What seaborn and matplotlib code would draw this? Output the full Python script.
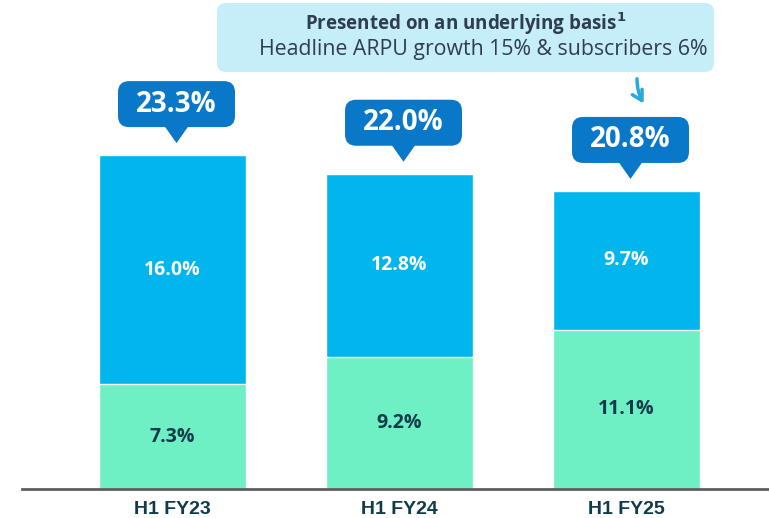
import matplotlib
matplotlib.use("Agg")
import matplotlib.pyplot as plt
import seaborn as sns
import pandas as pd
from matplotlib.patches import FancyBboxPatch, Polygon, FancyArrowPatch
from matplotlib.transforms import IdentityTransform

# ---- data ----
periods = ["H1 FY23", "H1 FY24", "H1 FY25"]
subscriber_growth = [7.3, 9.2, 11.1]      # green (bottom)
arpu_growth = [16.0, 12.8, 9.7]           # blue (top)
total_growth = [23.3, 22.0, 20.8]
callout_title = "Presented on an underlying basis$^{\\mathbf{1}}$"
callout_sub = "Headline ARPU growth 15% & subscribers 6%"

BLUE = "#00B6ED"
GREEN = "#6EF0C4"
BUBBLE = "#0A78C8"
DARK = "#0F3B4B"
CALLOUT_BG = "#C5EEF8"
CALLOUT_TXT = "#2E3D4F"

sns.set_theme(style="white")
plt.rcParams["font.family"] = ["Open Sans", "DejaVu Sans"]

W, H = 769, 518
fig = plt.figure(figsize=(W / 100, H / 100), dpi=100)
ax = fig.add_axes([22 / W, 29 / H, 747 / W, 489 / H])

df = pd.DataFrame({"period": periods, "total": total_growth, "subs": subscriber_growth})
bw = 147 / 227
sns.barplot(data=df, x="period", y="total", color=BLUE, saturation=1, width=bw, ax=ax)
sns.barplot(data=df, x="period", y="subs", color=GREEN, saturation=1, width=bw, ax=ax)

ax.set_ylim(0, 489 / 14.33)
ax.set_xlim(-150.5 / 227, -150.5 / 227 + 747 / 227)
ax.set_xlabel("")
ax.set_ylabel("")
ax.set_yticks([])
for s in ["top", "right", "left"]:
    ax.spines[s].set_visible(False)
ax.spines["bottom"].set_color("#5E5E5E")
ax.spines["bottom"].set_linewidth(2)
ax.tick_params(axis="x", length=0, pad=9)
for lbl in ax.get_xticklabels():
    lbl.set_family(["Liberation Sans Narrow", "Liberation Sans", "DejaVu Sans"])
    lbl.set_fontweight("bold")
    lbl.set_fontsize(14)
    lbl.set_color(DARK)

# segment labels
for i in range(len(periods)):
    g = subscriber_growth[i]
    b = arpu_growth[i]
    ax.text(i, g / 2, f"{g:.1f}%", ha="center", va="center", color=DARK,
            fontsize=14, fontweight="bold")
    ax.text(i, g + b / 2, f"{b:.1f}%", ha="center", va="center", color="white",
            fontsize=14, fontweight="bold")

# bubbles (in pixel coords derived from data)
fig.canvas.draw()
ident = IdentityTransform()
for i, t in enumerate(total_growth):
    px, py = ax.transData.transform((i, t))
    cx = px + 4
    bw_px, bh_px = 117, 46
    bottom = py + 28
    box = FancyBboxPatch((cx - bw_px / 2, bottom), bw_px, bh_px,
                         boxstyle="round,pad=0,rounding_size=11",
                         fc=BUBBLE, ec="none", transform=ident)
    fig.patches.append(box)
    box.set_figure(fig)
    tri = Polygon([[cx - 12, bottom + 1], [cx + 12, bottom + 1], [cx, py + 12]],
                  closed=True, fc=BUBBLE, ec="none", transform=ident)
    fig.patches.append(tri)
    tri.set_figure(fig)
    fig.text(cx / W, (bottom + bh_px / 2) / H, f"{t:.1f}%", ha="center", va="center",
             color="white", fontsize=20, fontweight="bold")

# callout
cb = FancyBboxPatch((217 / W, (H - 72) / H), 497 / W, 69 / H,
                    boxstyle="round,pad=0,rounding_size=0.012",
                    fc=CALLOUT_BG, ec="none", transform=fig.transFigure,
                    mutation_aspect=W / H)
fig.patches.append(cb)
fig.text(466 / W, (H - 24) / H, callout_title, ha="center", va="center",
         color=CALLOUT_TXT, fontsize=13.5, fontweight="bold")
fig.text(483 / W, (H - 50) / H, callout_sub, ha="center", va="center",
         color=CALLOUT_TXT, fontsize=15.3)
arr = FancyArrowPatch((637 / W, (H - 76) / H), (645 / W, (H - 106) / H),
                      connectionstyle="arc3,rad=0.15",
                      arrowstyle="->,head_length=7,head_width=4",
                      color="#2AA8DC", lw=2.5, transform=fig.transFigure)
fig.patches.append(arr)

fig.savefig("out.png", dpi=100)
